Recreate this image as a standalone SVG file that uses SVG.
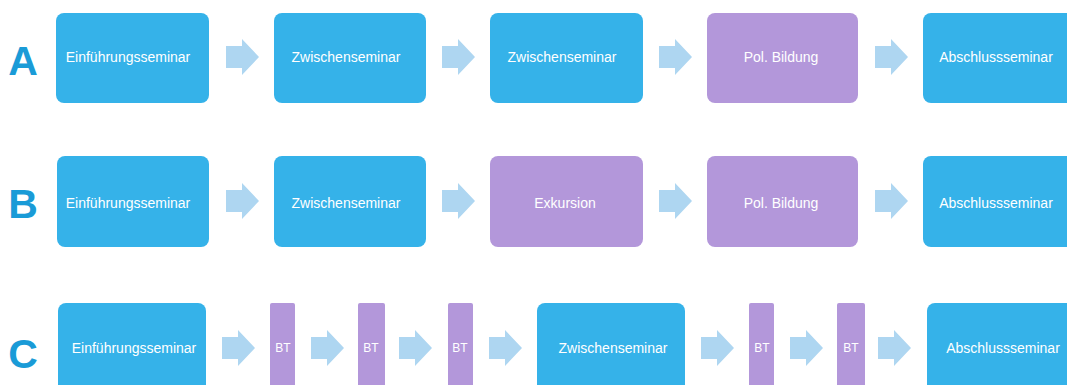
<svg xmlns="http://www.w3.org/2000/svg" width="1067" height="385" viewBox="0 0 1067 385">
<style>
.b{fill:#35b2e9}
.p{fill:#b397da}
.ar{fill:#aed6f1}
.t{fill:#ffffff;font-family:"Liberation Sans",Arial,sans-serif;font-size:14px;text-anchor:middle;dominant-baseline:central}
.ts{fill:#ffffff;font-family:"Liberation Sans",Arial,sans-serif;font-size:12px;text-anchor:middle;dominant-baseline:central}
.L{fill:#1a9bd7;font-family:"Liberation Sans",Arial,sans-serif;font-size:41px;font-weight:bold;text-anchor:middle}
</style>
<defs>
<path id="arr" d="M0,-11 H16 V-18 L33,0 L16,18 V11 H0 Z"/>
</defs>
<rect width="1067" height="385" fill="#ffffff"/>
<text class="L" x="23" y="75">A</text>
<text class="L" x="23" y="218">B</text>
<text class="L" x="23" y="368">C</text>
<g id="connectors">
<use href="#arr" class="ar" x="226" y="57"/>
<use href="#arr" class="ar" x="442" y="57"/>
<use href="#arr" class="ar" x="659" y="57"/>
<use href="#arr" class="ar" x="875" y="57"/>
<use href="#arr" class="ar" x="226" y="201"/>
<use href="#arr" class="ar" x="442" y="201"/>
<use href="#arr" class="ar" x="659" y="201"/>
<use href="#arr" class="ar" x="875" y="201"/>
<use href="#arr" class="ar" x="222" y="348"/>
<use href="#arr" class="ar" x="311" y="348"/>
<use href="#arr" class="ar" x="399" y="348"/>
<use href="#arr" class="ar" x="489" y="348"/>
<use href="#arr" class="ar" x="701" y="348"/>
<use href="#arr" class="ar" x="790" y="348"/>
<use href="#arr" class="ar" x="878" y="348"/>
</g>
<g id="a1"><rect class="b" x="56" y="13" width="153" height="90" rx="8"/><text class="t" x="128" y="57">Einführungsseminar</text></g>
<g id="a2"><rect class="b" x="274" y="13" width="152" height="90" rx="8"/><text class="t" x="346" y="57">Zwischenseminar</text></g>
<g id="a3"><rect class="b" x="490" y="13" width="153" height="90" rx="8"/><text class="t" x="562" y="57">Zwischenseminar</text></g>
<g id="a4"><rect class="p" x="707" y="13" width="151" height="90" rx="8"/><text class="t" x="781" y="57">Pol. Bildung</text></g>
<g id="a5"><rect class="b" x="923" y="13" width="153" height="90" rx="8"/><text class="t" x="996" y="57">Abschlussseminar</text></g>
<g id="b1"><rect class="b" x="57" y="156" width="152" height="91" rx="8"/><text class="t" x="128" y="203">Einführungsseminar</text></g>
<g id="b2"><rect class="b" x="274" y="156" width="152" height="91" rx="8"/><text class="t" x="346" y="203">Zwischenseminar</text></g>
<g id="b3"><rect class="p" x="490" y="156" width="153" height="91" rx="8"/><text class="t" x="565" y="203">Exkursion</text></g>
<g id="b4"><rect class="p" x="707" y="156" width="151" height="91" rx="8"/><text class="t" x="781" y="203">Pol. Bildung</text></g>
<g id="b5"><rect class="b" x="923" y="156" width="153" height="91" rx="8"/><text class="t" x="996" y="203">Abschlussseminar</text></g>
<g id="c1"><rect class="b" x="58" y="303" width="148" height="95" rx="8"/><text class="t" x="134" y="348">Einführungsseminar</text></g>
<g id="c2"><rect class="p" x="270" y="303" width="25" height="95" rx="2"/><text class="ts" x="283" y="348">BT</text></g>
<g id="c3"><rect class="p" x="358" y="303" width="27" height="95" rx="2"/><text class="ts" x="371" y="348">BT</text></g>
<g id="c4"><rect class="p" x="448" y="303" width="25" height="95" rx="2"/><text class="ts" x="460" y="348">BT</text></g>
<g id="c5"><rect class="b" x="537" y="303" width="148" height="95" rx="8"/><text class="t" x="613" y="348">Zwischenseminar</text></g>
<g id="c6"><rect class="p" x="749" y="303" width="25" height="95" rx="2"/><text class="ts" x="762" y="348">BT</text></g>
<g id="c7"><rect class="p" x="837" y="303" width="28" height="95" rx="2"/><text class="ts" x="851" y="348">BT</text></g>
<g id="c8"><rect class="b" x="927" y="303" width="148" height="95" rx="8"/><text class="t" x="1003" y="348">Abschlussseminar</text></g>
</svg>
